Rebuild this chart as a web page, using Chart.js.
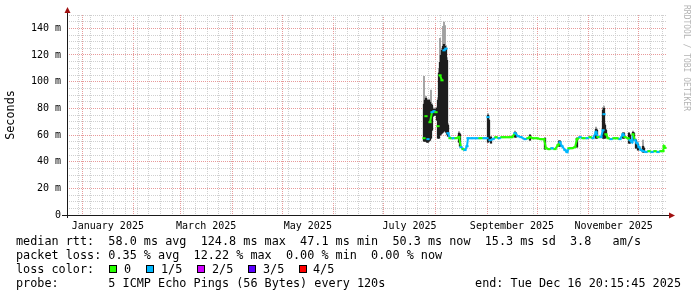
<!DOCTYPE html>
<html><head><meta charset="utf-8">
<script src="https://cdn.jsdelivr.net/npm/chart.js@4/dist/chart.umd.min.js"></script>
<style>
html,body{margin:0;padding:0;background:#fff;}
#wrap{position:relative;width:697px;height:297px;overflow:hidden;background:#fff;}
#c{position:absolute;left:0;top:0;}
.t{position:absolute;font-family:"DejaVu Sans Mono",monospace;font-size:11.8px;white-space:pre;color:#000;line-height:14px;}
.sq{position:absolute;box-sizing:border-box;width:8px;height:8px;border:1px solid #000;}
#wm{position:absolute;left:682px;top:5px;writing-mode:vertical-rl;font-family:"DejaVu Sans Mono",monospace;font-size:8px;color:#b4b4b4;line-height:8px;}
</style></head>
<body><div id="wrap">
<canvas id="c" width="697" height="297"></canvas>
<div id="wm">RRDTOOL / TOBI OETIKER</div>
<div class="t" style="left:16px;top:234px">median rtt:  58.0 ms avg  124.8 ms max  47.1 ms min  50.3 ms now  15.3 ms sd  3.8   am/s</div>
<div class="t" style="left:16px;top:248px">packet loss: 0.35 % avg  12.22 % max  0.00 % min  0.00 % now</div>
<div class="t" style="left:16px;top:262px">loss color:</div>
<div id="lossLegend"></div>
<div class="t" style="left:16px;top:276px">probe:       5 ICMP Echo Pings (56 Bytes) every 120s</div>
<div class="t" style="right:16px;top:276px">end: Tue Dec 16 20:15:45 2025</div>
</div>
<script>
// ---- data (x = days since 1 Jan 2025, values in ms) ----
const medianDays = [205.2,206.4,207.6,208.8,210.0,211.2,212.4,213.6,214.8,216.0,217.2,218.4,219.6,220.8,222.6,224.4,226.2,227.4,228.6,229.8,231.0,231.6,234.0,236.4,238.8,241.2,243.0,243.6,244.8,246.6,248.4,250.2,252.0,253.8,256.2,258.0,259.8,261.6,263.4,265.8,267.6,268.8,270.6,273.0,275.4,277.2,278.4,280.2,282.0,283.8,285.6,286.8,288.0,289.8,291.0,292.2,294.0,295.8,297.0,298.8,300.6,303.0,304.8,306.6,308.4,309.6,311.4,312.6,313.2,314.4,315.6,317.4,319.2,321.0,322.8,324.6,325.8,327.6,328.8,330.0,330.6,331.8,333.0,334.2,335.4,336.6,338.4,340.2,342.0,343.8,345.6,347.4,348.6,349.2,349.8];
const medianMs = [57.6,74.1,56.9,69.6,77.1,77.8,77.1,66.6,104.8,101.0,123.5,124.8,61.4,57.6,57.6,57.6,58.4,50.9,49.4,48.7,51.6,57.6,57.6,57.6,57.6,57.6,57.6,73.4,56.1,56.9,58.4,57.6,58.4,58.4,58.4,58.4,61.4,59.1,58.4,56.9,57.6,58.4,57.6,57.6,56.9,56.9,50.1,49.4,50.1,49.4,52.4,54.6,51.6,48.7,47.2,50.1,50.1,50.9,56.9,58.4,57.6,57.6,58.4,57.6,62.1,58.4,58.4,63.6,75.6,60.6,57.6,56.9,57.6,57.6,56.9,60.6,58.4,57.6,56.1,54.6,60.6,56.1,53.9,50.9,48.7,47.9,47.2,47.9,47.2,47.9,47.2,47.9,47.9,51.6,50.3];
const medianLoss = [0,0,1,0,1,1,0,0,0,0,1,1,1,0,1,0,0,1,0,1,1,1,1,1,0,1,1,1,1,1,0,1,0,0,0,0,1,1,1,1,0,0,0,0,0,0,0,0,1,0,0,1,1,1,1,0,0,0,0,1,0,1,0,1,1,0,1,1,1,0,0,1,0,0,1,1,0,0,1,1,0,1,1,1,1,1,1,0,1,0,1,0,0,0,0];
const smokeDays = [205.2,205.8,206.4,207.0,207.6,208.2,208.8,209.4,210.0,210.6,211.2,211.8,212.4,213.0,213.6,214.2,214.8,215.4,216.0,216.6,217.2,217.8,218.4,219.0,219.6,226.2,226.8,243.6,244.2,245.4,259.8,260.4,268.8,277.8,286.2,286.8,297.0,308.4,309.0,312.6,313.2,313.8,314.4,324.6,325.2,328.2,328.8,330.6,331.2,332.4,333.6,336.6,337.2];
const smokeLo = [55.4,55.4,55.4,54.6,54.6,55.4,56.1,57.6,63.6,74.1,74.9,74.9,74.9,71.1,57.6,57.6,59.9,60.6,61.4,62.1,63.6,62.9,62.1,60.6,59.1,54.6,51.6,54.6,55.4,53.9,58.4,58.4,56.1,49.4,51.6,51.6,50.9,57.6,57.6,57.6,57.6,57.6,58.4,57.6,57.6,53.9,53.9,56.9,56.1,50.1,48.7,47.2,47.2];
const smokeHi = [83.1,86.1,87.6,86.1,84.6,86.1,84.6,83.1,82.3,79.3,79.3,79.3,79.3,80.1,86.1,106.5,114.5,119.8,123.5,126.5,128.0,126.5,125.0,116.0,67.4,61.4,60.6,74.9,71.1,58.4,62.1,61.4,59.9,57.6,55.4,55.4,57.6,64.4,63.6,78.6,80.1,67.4,63.6,61.4,61.4,61.4,59.9,62.1,61.4,56.1,53.1,51.6,50.1];
const smokeMax = [104.0,88.0,89.0,87.0,86.0,87.0,86.0,93.6,83.5,80.1,80.1,80.1,80.1,81.0,88.0,110.0,132.5,122.0,125.0,141.5,144.6,142.0,127.0,118.0,68.5,62.5,61.5,76.0,72.0,59.0,63.0,62.0,60.5,58.0,56.0,56.0,58.0,65.9,64.5,80.8,81.6,68.5,64.5,62.0,62.0,62.0,60.5,63.0,62.0,57.0,54.0,56.1,51.0];
const lossNames = ['0','1/5','2/5','3/5','4/5'];
const lossColors = ['#26ff00','#00b8ff','#d000ff','#5a00ff','#ff0000'];
const monthStarts = [0,31,59,90,120,151,181,212,243,273,304,334];
const labelDays = [15.5,74.5,135.5,196.5,258,319];
const tickLabels = ['January 2025','March 2025','May 2025','July 2025','September 2025','November 2025'];

// ---- loss colour legend ----
const legendSq = [109,146,197,248,299];
const legendTx = [124,161,212,263,313];
const ll = document.getElementById('lossLegend');
lossNames.forEach((n,i)=>{
  const s=document.createElement('div'); s.className='sq';
  s.style.left=legendSq[i]+'px'; s.style.top='265px'; s.style.background=lossColors[i]; ll.appendChild(s);
  const t=document.createElement('div'); t.className='t';
  t.style.left=legendTx[i]+'px'; t.style.top='262px'; t.textContent=n; ll.appendChild(t);
});

// ---- x ticks: month starts (major), weeks (minor), mid-month labels ----
const xTicks = [];
for (let d=-9; d<=351; d+=7) if (!monthStarts.includes(d)) xTicks.push({value:d, kind:'minor'});
monthStarts.forEach(d=>xTicks.push({value:d, kind:'major'}));
labelDays.forEach((d,i)=>xTicks.push({value:d, kind:'label', lbl:tickLabels[i]}));
xTicks.sort((a,b)=>a.value-b.value);

const GREY='#cfcfcf', RED='#e89a9a', FONT='"DejaVu Sans Mono", monospace';
const CLEAR='rgba(0,0,0,0)';

const axisPlugin = {
  id:'axes',
  afterDraw(chart){
    const {ctx, chartArea:a} = chart;
    ctx.save();
    ctx.strokeStyle='#1a1a1a'; ctx.lineWidth=1;
    ctx.beginPath();
    ctx.moveTo(a.left-5, a.bottom+0.5); ctx.lineTo(a.right+3, a.bottom+0.5);
    ctx.moveTo(a.left+0.5, a.bottom+3); ctx.lineTo(a.left+0.5, a.top-3);
    ctx.stroke();
    ctx.fillStyle='#a01010';
    ctx.beginPath(); ctx.moveTo(a.left+0.5, a.top-8); ctx.lineTo(a.left-2.5, a.top-2); ctx.lineTo(a.left+3.5, a.top-2); ctx.closePath(); ctx.fill();
    ctx.beginPath(); ctx.moveTo(a.right+8, a.bottom+0.5); ctx.lineTo(a.right+2, a.bottom-2.5); ctx.lineTo(a.right+2, a.bottom+3.5); ctx.closePath(); ctx.fill();
    ctx.restore();
  }
};

new Chart(document.getElementById('c'), {
  type:'bar',
  data:{
    datasets:[
      {type:'line', label:'median', order:0,
       data: medianDays.map((d,i)=>({x:d, y:medianMs[i]})),
       borderWidth:2, tension:0, borderColor:lossColors[0],
       pointStyle:'line', pointRadius:1.6, pointHoverRadius:1.6, pointBorderWidth:2,
       pointBorderColor: c => lossColors[medianLoss[c.dataIndex]],
       pointBackgroundColor: c => lossColors[medianLoss[c.dataIndex]],
       segment:{borderColor: c => Math.abs(c.p1.parsed.y - c.p0.parsed.y) > 9 ? CLEAR : lossColors[medianLoss[c.p0DataIndex]]}},
      {label:'smoke', order:1, grouped:false, barThickness:1.6, backgroundColor:'#1e1e1e', borderWidth:0,
       data: smokeDays.map((d,i)=>({x:d, y:[smokeLo[i], smokeHi[i]]}))},
      {label:'smoke-outer', order:2, grouped:false, barThickness:1.2, backgroundColor:'#a0a0a0', borderWidth:0,
       data: smokeDays.map((d,i)=>({x:d, y:[smokeLo[i], smokeMax[i]]}))}
    ]
  },
  options:{
    responsive:false, animation:false, devicePixelRatio:1,
    layout:{padding:{left:0, right:30, top:15, bottom:62}},
    plugins:{legend:{display:false}, tooltip:{enabled:false}},
    scales:{
      x:{type:'linear', min:-9, max:351, offset:false,
         grid:{offset:false, drawTicks:false, lineWidth:1,
               color: c => !c.tick ? GREY : c.tick.kind==='major' ? RED : c.tick.kind==='minor' ? GREY : CLEAR},
         border:{display:false, dash:[1,1]},
         afterBuildTicks: s => { s.ticks = xTicks.map(t=>Object.assign({}, t)); },
         afterFit: s => { s.height = 20; },
         ticks:{autoSkip:false, maxRotation:0, minRotation:0, padding:5, color:'#000',
                font:{family:FONT, size:10},
                callback:(v,i,t)=> (t[i] && t[i].lbl) ? t[i].lbl : ''}},
      y:{type:'linear', min:0, max:150,
         grid:{drawTicks:false, lineWidth:1,
               color: c => (c.tick && c.tick.value % 20 === 0) ? RED : GREY},
         border:{display:false, dash:[1,1]},
         afterFit: s => { s.width = 67; },
         title:{display:true, text:'Seconds', color:'#000', font:{family:FONT, size:11.8}, padding:{top:4, bottom:0}},
         ticks:{stepSize:5, autoSkip:false, padding:6, color:'#000', font:{family:FONT, size:10},
                callback: v => v % 20 === 0 ? (v === 0 ? '0' : v + ' m') : ''}}
    }
  },
  plugins:[axisPlugin]
});
</script>
</body></html>
